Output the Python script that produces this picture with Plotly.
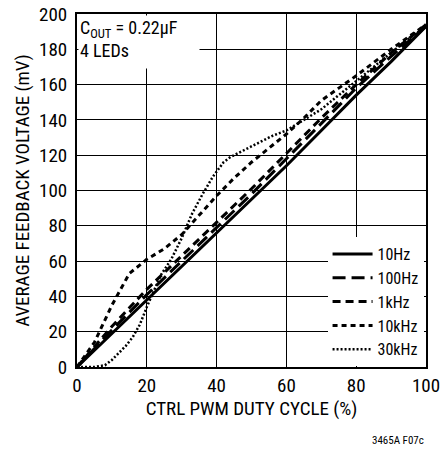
import plotly.graph_objects as go

duty_10hz = [0, 10, 20, 30, 40, 50, 60, 70, 80, 90, 100]
v_10hz = [0, 19, 38, 57, 76, 95, 114, 134, 154, 173, 193]

duty_100hz = [0, 10, 20, 30, 40, 50, 60, 70, 80, 90, 100]
v_100hz = [0, 21, 41, 60, 79, 98, 118, 138, 158, 176, 193]

duty_1khz = [0, 10, 20, 30, 40, 50, 60, 70, 80, 90, 100]
v_1khz = [0, 23, 44, 63, 82, 101, 121, 141, 160, 178, 194]

duty_10khz = [0, 5, 10, 15, 20, 25, 30, 35, 40, 45, 50, 55, 60, 65, 70, 75, 80, 90, 100]
v_10khz = [0, 14, 35, 53, 61, 67, 75, 86, 97, 107, 116, 124, 132, 141, 151, 158, 165, 180, 194]

duty_30khz = [0, 5, 8, 10, 12, 14, 16, 18, 20, 22, 24, 27, 30, 33, 36, 39, 42, 44, 48, 52,
              56, 60, 65, 70, 75, 80, 85, 90, 95, 100]
v_30khz = [0, 0, 1, 4, 8, 12, 17, 24, 34, 43, 52, 61, 73, 87, 98, 108, 116, 119, 123, 127,
           131, 134, 140, 146, 154, 162, 170, 178, 186, 193]

x_ticks = [0, 20, 40, 60, 80, 100]
y_ticks = [0, 20, 40, 60, 80, 100, 120, 140, 160, 180, 200]

FONT = "Liberation Sans Narrow, Roboto Condensed, Arial Narrow, Liberation Sans, sans-serif"

series = [
    ("10Hz", duty_10hz, v_10hz, "solid", 3),
    ("100Hz", duty_100hz, v_100hz, "13px,6px", 3),
    ("1kHz", duty_1khz, v_1khz, "8px,5px", 3),
    ("10kHz", duty_10khz, v_10khz, "5px,4px", 3),
    ("30kHz", duty_30khz, v_30khz, "2px,2px", 2.5),
]

fig = go.Figure()
for name, xs, ys, dash, w in series:
    fig.add_trace(go.Scatter(x=xs, y=ys, mode="lines", name=name,
                             line=dict(color="black", width=w, dash=dash)))

fig.update_layout(
    width=441, height=449,
    margin=dict(l=77, r=15, t=14, b=82),
    paper_bgcolor="white", plot_bgcolor="white",
    font=dict(family=FONT, size=19, color="black"),
    showlegend=True,
    legend=dict(x=0.993, y=0.368, xanchor="right", yanchor="top",
                bgcolor="white", borderwidth=0,
                font=dict(size=16), tracegroupgap=0, itemwidth=40),
    xaxis=dict(range=[0, 100], tickvals=x_ticks, showgrid=True, gridcolor="black",
               gridwidth=1, showline=True, linecolor="black", linewidth=2, mirror=True,
               ticks="", zeroline=False, automargin=False, tickfont=dict(size=19),
               title=dict(text="CTRL PWM DUTY CYCLE (%)", font=dict(size=19), standoff=6)),
    yaxis=dict(range=[0, 200], tickvals=y_ticks, showgrid=True, gridcolor="black",
               gridwidth=1, showline=True, linecolor="black", linewidth=2, mirror=True,
               ticks="outside", ticklen=4, tickcolor="rgba(0,0,0,0)", zeroline=False,
               automargin=False, tickfont=dict(size=19),
               title=dict(text="AVERAGE FEEDBACK VOLTAGE (mV)", font=dict(size=19), standoff=4)),
    annotations=[
        dict(xref="paper", yref="paper", x=0.004, y=0.996, xanchor="left", yanchor="top",
             text="C<sub>OUT</sub> = 0.22µF<br>4 LEDs", showarrow=False, align="left",
             valign="top", bgcolor="white", width=118, height=50,
             font=dict(size=18)),
        dict(xref="paper", yref="paper", x=1.0, y=-0.207, xanchor="right", yanchor="middle",
             text="3465A F07c", showarrow=False, font=dict(size=11)),
    ],
)

fig.write_html("out.html", config={"displayModeBar": False},
               post_script="document.body.style.margin='0';")
